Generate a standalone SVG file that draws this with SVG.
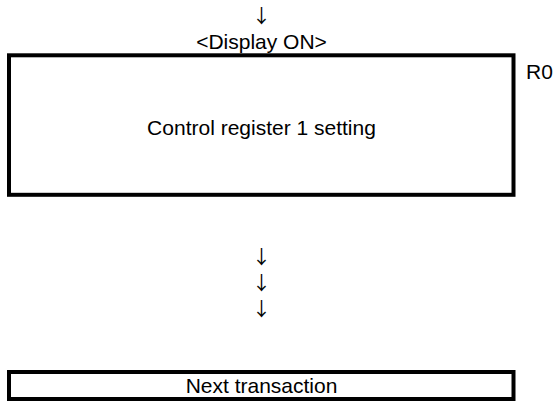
<svg xmlns="http://www.w3.org/2000/svg" width="555" height="405" viewBox="0 0 555 405">
<style>
  text { font-family: "Liberation Sans", Arial, sans-serif; font-size: 21px; fill: #000; }
  text.arrow { font-family: "Noto Sans CJK JP", "Noto Sans CJK SC", sans-serif; font-size: 19px; }
  .box { fill: #fff; stroke: #000; stroke-width: 4; }
  .mid { text-anchor: middle; }
</style>
<rect width="555" height="405" fill="#fff"/>
<g id="connectors">
  <text class="arrow mid" x="261.5" y="23">↓</text>
  <text class="arrow mid" x="261.5" y="264">↓</text>
  <text class="arrow mid" x="261.5" y="290">↓</text>
  <text class="arrow mid" x="261.5" y="316">↓</text>
</g>
<g id="display-on-label">
  <text class="mid" x="261.5" y="49">&lt;Display ON&gt;</text>
</g>
<g id="node-control-register">
  <rect class="box" x="9" y="55.3" width="504.5" height="139.5"/>
  <text class="mid" x="261.5" y="135">Control register 1 setting</text>
</g>
<g id="label-r0">
  <text x="526" y="79">R0</text>
</g>
<g id="node-next-transaction">
  <rect class="box" x="9" y="372" width="504.5" height="27"/>
  <text class="mid" x="261.5" y="393">Next transaction</text>
</g>
</svg>
